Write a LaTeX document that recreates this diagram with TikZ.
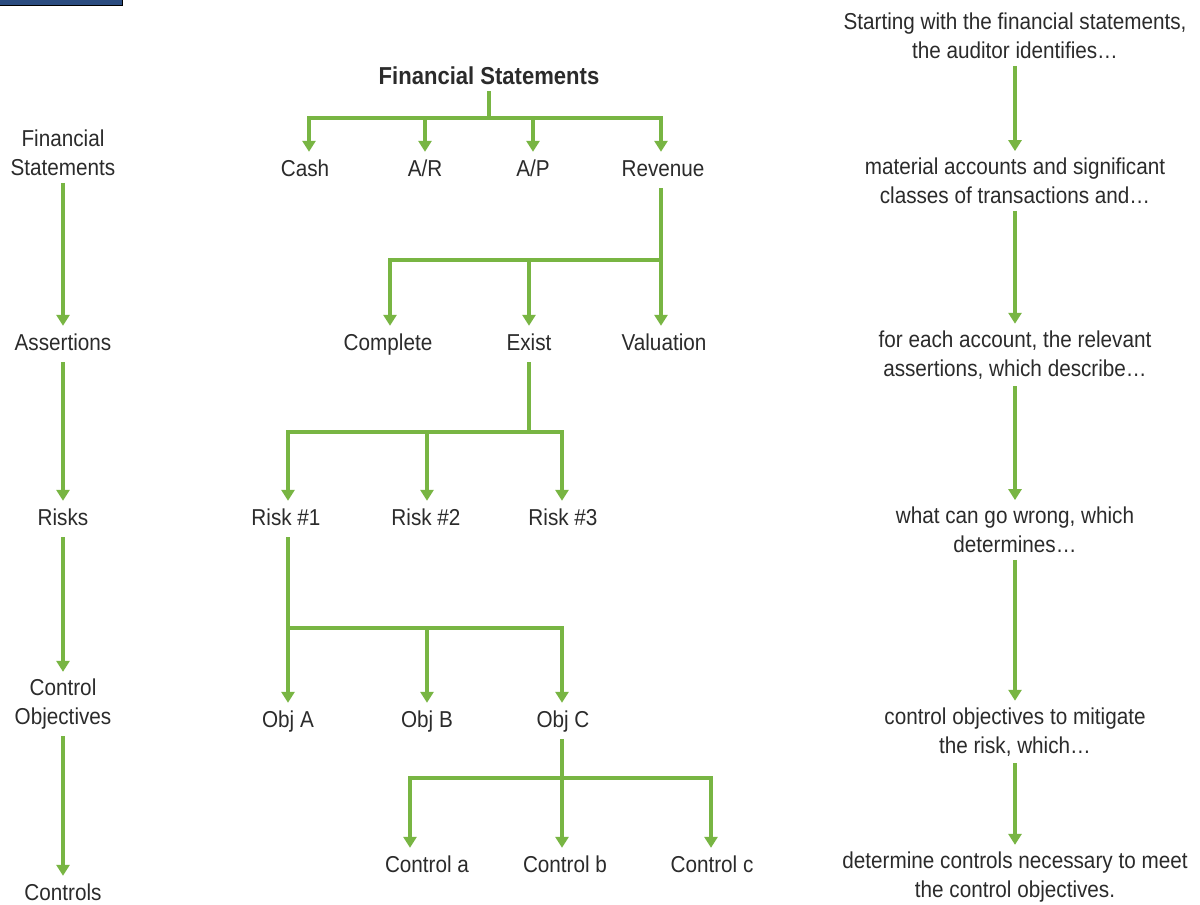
\documentclass[tikz,border=0pt]{standalone}
\usepackage{fontspec}
\setmainfont{Liberation Sans}[FakeStretch=0.9]
\usetikzlibrary{arrows.meta}
\definecolor{flowgreen}{HTML}{78B543}
\definecolor{inktext}{HTML}{2B2B2B}
\definecolor{barblue}{HTML}{2B4C80}
\begin{document}
\begin{tikzpicture}[x=1pt,y=-1pt,
  lbl/.style={inner sep=2pt, text=inktext, font=\fontsize{23}{28.5}\selectfont, align=center},
  one/.style={lbl, text height=17pt, text depth=5pt, yshift=-3pt},
  wire/.style={draw=flowgreen, line width=3.6pt},
  arr/.style={wire, -{Triangle[width=13pt,length=11pt]}, shorten >=5pt, shorten <=5pt},
  tee/.style={wire, -{Triangle[width=13pt,length=11pt]}, shorten >=5pt}]
\useasboundingbox (0,0) rectangle (1200,905);
\fill[white] (0,0) rectangle (1200,905);
% header bar
\draw[fill=barblue, draw=black, line width=1pt] (-2,-2) rectangle (122,5);

% left column: levels
\node[lbl] (lfs) at (63,153) {Financial\\Statements};
\node[one] (las) at (63,341) {Assertions};
\node[one] (lri) at (63,516) {Risks};
\node[lbl] (lco) at (63,704) {Control\\Objectives};
\node[one] (lct) at (63,891) {Controls};
\draw[arr] (lfs) -- (las);
\draw[arr] (las) -- (lri);
\draw[arr] (lri) -- (lco);
\draw[arr] (lco) -- (lct);

% middle tree
\node[one, font=\fontsize{24.5}{28.5}\selectfont\bfseries] (fs) at (489,75) {Financial Statements};
\node[one] (cash) at (305,167) {Cash};
\node[one] (ar) at (425,167) {A/R};
\node[one] (ap) at (533,167) {A/P};
\node[one] (rev) at (663,167) {Revenue};
\coordinate (b1) at (490,118);
\draw[wire] (fs) -- (fs |- b1);
\draw[tee] (fs |- b1) -| ([xshift=4pt]cash.north);
\draw[tee] (fs |- b1) -| (ar);
\draw[tee] (fs |- b1) -| (ap);
\draw[tee] (fs |- b1) -| ([xshift=-2pt]rev.north);

\node[one] (comp) at (388,341) {Complete};
\node[one] (exist) at (529,341) {Exist};
\node[one] (val) at (664,341) {Valuation};
\coordinate (b2) at (390,260);
\draw[arr] ([xshift=-2pt]rev.south) -- ([xshift=-2pt]rev.south |- val.north);
\draw[tee] ([xshift=-2pt]rev.south |- b2) -| ([xshift=2pt]comp.north);
\draw[tee] ([xshift=-2pt]rev.south |- b2) -| (exist);

\node[one] (r1) at (286,516) {Risk \#1};
\node[one] (r2) at (426,516) {Risk \#2};
\node[one] (r3) at (563,516) {Risk \#3};
\coordinate (b3) at (288,432);
\draw[wire, shorten <=5pt] (exist) -- (exist |- b3);
\draw[tee] (exist |- b3) -| ([xshift=2pt]r1.north);
\draw[tee] (exist |- b3) -| ([xshift=1pt]r2.north);
\draw[tee] (exist |- b3) -| ([xshift=-1pt]r3.north);

\node[one] (oa) at (288,718) {Obj A};
\node[one] (ob) at (427,718) {Obj B};
\node[one] (oc) at (563,718) {Obj C};
\coordinate (b4) at (288,628);
\draw[wire, shorten <=5pt] ([xshift=2pt]r1.south) -- ([xshift=2pt]r1.south |- b4);
\draw[tee] ([xshift=2pt]r1.south |- b4) -- ([xshift=2pt]r1.south |- oa.north);
\draw[tee] ([xshift=2pt]r1.south |- b4) -| (ob);
\draw[tee] ([xshift=2pt]r1.south |- b4) -| ([xshift=-1pt]oc.north);

\node[one] (ca) at (427,863) {Control a};
\node[one] (cb) at (565,863) {Control b};
\node[one] (cc) at (712,863) {Control c};
\coordinate (b5) at (562,778);
\draw[arr] ([xshift=-1pt]oc.south) -- ([xshift=-1pt]oc.south |- cb.north);
\draw[tee] (b5) -| ([xshift=-17pt]ca.north);
\draw[tee] (b5) -| ([xshift=-1pt]cc.north);

% right column: narrative
\node[lbl] (n1) at (1015,36) {Starting with the financial statements,\\the auditor identifies\ldots};
\node[lbl] (n2) at (1015,181) {material accounts and significant\\classes of transactions and\ldots};
\node[lbl] (n3) at (1015,355) {for each account, the relevant\\assertions, which describe\ldots};
\node[lbl] (n4) at (1015,530) {what can go wrong, which\\determines\ldots};
\node[lbl] (n5) at (1015,732) {control objectives to mitigate\\the risk, which\ldots};
\node[lbl] (n6) at (1015,877) {determine controls necessary to meet\\the control objectives.};
\draw[arr] (n1) -- (n2);
\draw[arr] (n2) -- (n3);
\draw[arr] (n3) -- (n4);
\draw[arr] (n4) -- (n5);
\draw[arr] (n5) -- (n6);
\end{tikzpicture}
\end{document}
